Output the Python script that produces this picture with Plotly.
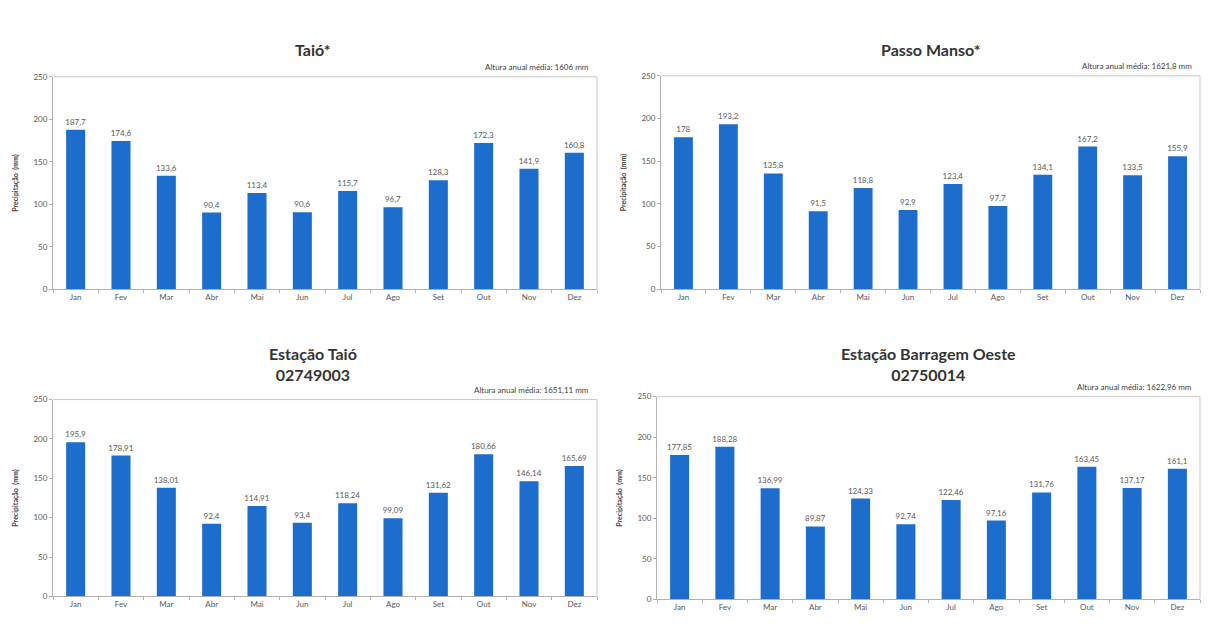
import plotly.graph_objects as go

meses = ["Jan", "Fev", "Mar", "Abr", "Mai", "Jun", "Jul", "Ago", "Set", "Out", "Nov", "Dez"]

taio_ast = [187.7, 174.6, 133.6, 90.4, 113.4, 90.6, 115.7, 96.7, 128.3, 172.3, 141.9, 160.8]
passo_manso = [178, 193.2, 135.8, 91.5, 118.8, 92.9, 123.4, 97.7, 134.1, 167.2, 133.5, 155.9]
estacao_taio = [195.9, 178.91, 138.01, 92.4, 114.91, 93.4, 118.24, 99.09, 131.62, 180.66, 146.14, 165.69]
barragem_oeste = [177.85, 188.28, 136.99, 89.87, 124.33, 92.74, 122.46, 97.16, 131.76, 163.45, 137.17, 161.1]

titulos = ["Taió*", "Passo Manso*", "Estação Taió<br>02749003", "Estação Barragem Oeste<br>02750014"]
alturas = ["1606", "1621,8", "1651,11", "1622,96"]
series = [taio_ast, passo_manso, estacao_taio, barragem_oeste]

W, H = 1208, 624
# plot areas in pixels: (left, right, top, bottom)
caixas = [(53, 597, 73, 289), (661, 1200, 72, 289), (53, 597, 401, 601), (657, 1200, 398, 604)]
titulo_y = [45, 45, 365, 365]

BAR = "#1c6dcc"
TXT = "#595959"
FONT = "Lato, Open Sans, sans-serif"


def fmt(v):
    s = ("%.2f" % v).rstrip("0").rstrip(".")
    return s.replace(".", ",")


fig = go.Figure()
annotations = []
for i, (vals, caixa) in enumerate(zip(series, caixas)):
    l, r, t, b = caixa
    xa = "x" if i == 0 else f"x{i+1}"
    ya = "y" if i == 0 else f"y{i+1}"
    fig.add_trace(go.Bar(
        x=meses, y=vals, xaxis=xa, yaxis=ya,
        marker=dict(color=BAR, line=dict(width=0)),
        text=[fmt(v) for v in vals], textposition="outside",
        textfont=dict(size=8, color=TXT, family=FONT),
        constraintext="none", cliponaxis=False, showlegend=False,
    ))
    xd = [l / W, r / W]
    yd = [1 - b / H, 1 - t / H]
    sfx = "" if i == 0 else str(i + 1)
    fig.update_layout(**{
        f"xaxis{sfx}": dict(
            domain=xd, anchor=ya, type="category",
            showline=True, linecolor="#b0b0b0", linewidth=1,
            ticks="outside", tickson="boundaries", ticklen=3, tickcolor="#b0b0b0",
            tickfont=dict(size=8, color=TXT, family=FONT),
            showgrid=False, mirror=False, fixedrange=True,
        ),
        f"yaxis{sfx}": dict(
            domain=yd, anchor=xa, range=[0, 250], dtick=50,
            showline=True, linecolor="#b0b0b0", linewidth=1,
            ticks="outside", ticklen=3, tickcolor="#b0b0b0",
            tickfont=dict(size=8, color=TXT, family=FONT),
            showgrid=False, zeroline=False,
            title=dict(text="<b>Precipitação  (mm)</b>", font=dict(size=7, color="#404040", family=FONT), standoff=14),
        ),
    })
    # plot area border (top and right)
    fig.add_shape(type="line", xref="paper", yref="paper",
                  x0=xd[0], x1=xd[1], y0=yd[1], y1=yd[1],
                  line=dict(color="#c8c8c8", width=1))
    fig.add_shape(type="line", xref="paper", yref="paper",
                  x0=xd[1], x1=xd[1], y0=yd[0], y1=yd[1],
                  line=dict(color="#c8c8c8", width=1))
    annotations.append(dict(
        text=f"Altura anual média: {alturas[i]} mm", xref="paper", yref="paper",
        x=(r - 6) / W, y=1 - (t - 3) / H, xanchor="right", yanchor="bottom",
        showarrow=False, font=dict(size=8, color="#404040", family=FONT),
    ))
    annotations.append(dict(
        text=f"<b>{titulos[i]}</b>", xref="paper", yref="paper",
        x=((l + r) / 2 + (i % 2 == 0) * -12) / W, y=1 - titulo_y[i] / H,
        xanchor="center", yanchor="middle", showarrow=False,
        font=dict(size=16, color="#333333", family=FONT),
    ))

fig.update_layout(
    width=W, height=H, margin=dict(l=0, r=0, t=0, b=0),
    paper_bgcolor="white", plot_bgcolor="white",
    bargap=0.58, annotations=annotations,
)

fig.write_html("out.html")
